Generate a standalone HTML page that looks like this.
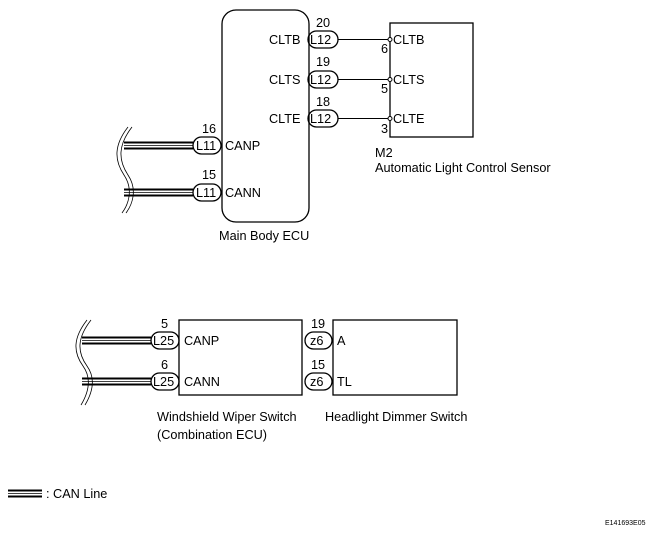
<!DOCTYPE html>
<html><head><style>
body{margin:0;background:#fff;}
svg{display:block;}
text{font-family:"Liberation Sans",Arial,sans-serif;font-size:12.7px;fill:#000;}
</style></head><body>
<svg width="653" height="537" viewBox="0 0 653 537" xmlns="http://www.w3.org/2000/svg">
<g fill="none" stroke="#000" stroke-width="1.3">
<rect x="222" y="10" width="87" height="212" rx="14"/>
<rect x="390" y="23" width="83" height="114"/>
<rect x="179" y="320" width="123" height="75"/>
<rect x="333" y="320" width="124" height="75"/>
<rect x="308" y="31" width="30" height="17" rx="8.5"/>
<rect x="308" y="71" width="30" height="17" rx="8.5"/>
<rect x="308" y="110" width="30" height="17" rx="8.5"/>
<line x1="338" y1="39.5" x2="388" y2="39.5" stroke-width="1"/>
<line x1="338" y1="79.5" x2="388" y2="79.5" stroke-width="1"/>
<line x1="338" y1="118.5" x2="388" y2="118.5" stroke-width="1"/>
<circle cx="390" cy="39.5" r="2" fill="#fff" stroke-width="1"/>
<circle cx="390" cy="79.5" r="2" fill="#fff" stroke-width="1"/>
<circle cx="390" cy="118.5" r="2" fill="#fff" stroke-width="1"/>
<rect x="193" y="137" width="28" height="17" rx="8.5"/>
<rect x="193" y="184" width="28" height="17" rx="8.5"/>
<rect x="151" y="332" width="28" height="17" rx="8.5"/>
<rect x="151" y="373" width="28" height="17" rx="8.5"/>
<rect x="305" y="332" width="27" height="17" rx="8.5"/>
<rect x="305" y="373" width="27" height="17" rx="8.5"/>
<path d="M132 127 C118 145,118 160,128 175 C138 190,132 205,126 213" stroke-width="0.8"/>
<path d="M128 127 C114 145,114 160,124 175 C134 190,128 205,122 213" stroke-width="0.8"/>
<path d="M91 320 C77 338,77 352,87 366 C97 380,91 395,85 405" stroke-width="0.8"/>
<path d="M87 320 C73 338,73 352,83 366 C93 380,87 395,81 405" stroke-width="0.8"/>
</g>
<g stroke="#000">
<line x1="124" y1="142.5" x2="193" y2="142.5" stroke-width="2"/>
<line x1="124" y1="148.5" x2="193" y2="148.5" stroke-width="2"/>
<line x1="124" y1="145.5" x2="193" y2="145.5" stroke-width="0.7"/>
<line x1="124" y1="189.5" x2="193" y2="189.5" stroke-width="2"/>
<line x1="124" y1="195.5" x2="193" y2="195.5" stroke-width="2"/>
<line x1="124" y1="192.5" x2="193" y2="192.5" stroke-width="0.7"/>
<line x1="82" y1="337.5" x2="151" y2="337.5" stroke-width="2"/>
<line x1="82" y1="343.5" x2="151" y2="343.5" stroke-width="2"/>
<line x1="82" y1="340.5" x2="151" y2="340.5" stroke-width="0.7"/>
<line x1="82" y1="378.5" x2="151" y2="378.5" stroke-width="2"/>
<line x1="82" y1="384.5" x2="151" y2="384.5" stroke-width="2"/>
<line x1="82" y1="381.5" x2="151" y2="381.5" stroke-width="0.7"/>
<line x1="8" y1="490.5" x2="42" y2="490.5" stroke-width="2"/>
<line x1="8" y1="496.5" x2="42" y2="496.5" stroke-width="2"/>
<line x1="8" y1="493.5" x2="42" y2="493.5" stroke-width="0.7"/>
</g>
<text x="269" y="44">CLTB</text>
<text x="269" y="84">CLTS</text>
<text x="269" y="123">CLTE</text>
<text x="310" y="44">L12</text><text x="310" y="84">L12</text><text x="310" y="123">L12</text>
<text x="316" y="27">20</text><text x="316" y="66">19</text><text x="316" y="106">18</text>
<text x="393" y="44">CLTB</text><text x="393" y="84">CLTS</text><text x="393" y="123">CLTE</text>
<text x="381" y="53">6</text><text x="381" y="93">5</text><text x="381" y="133">3</text>
<text x="375" y="157">M2</text>
<text x="375" y="172">Automatic Light Control Sensor</text>
<text x="196" y="150">L11</text><text x="196" y="197">L11</text>
<text x="202" y="133">16</text><text x="202" y="179">15</text>
<text x="225" y="150">CANP</text><text x="225" y="197">CANN</text>
<text x="219" y="240">Main Body ECU</text>
<text x="153" y="345">L25</text><text x="153" y="386">L25</text>
<text x="161" y="328">5</text><text x="161" y="369">6</text>
<text x="184" y="345">CANP</text><text x="184" y="386">CANN</text>
<text x="310" y="345">z6</text><text x="310" y="386">z6</text>
<text x="311" y="328">19</text><text x="311" y="369">15</text>
<text x="337" y="345">A</text><text x="337" y="386">TL</text>
<text x="157" y="421">Windshield Wiper Switch</text>
<text x="157" y="439">(Combination ECU)</text>
<text x="325" y="421">Headlight Dimmer Switch</text>
<text x="46" y="498">: CAN Line</text>
<text x="605" y="525" style="font-size:7px">E141693E05</text>
</svg>
</body></html>
